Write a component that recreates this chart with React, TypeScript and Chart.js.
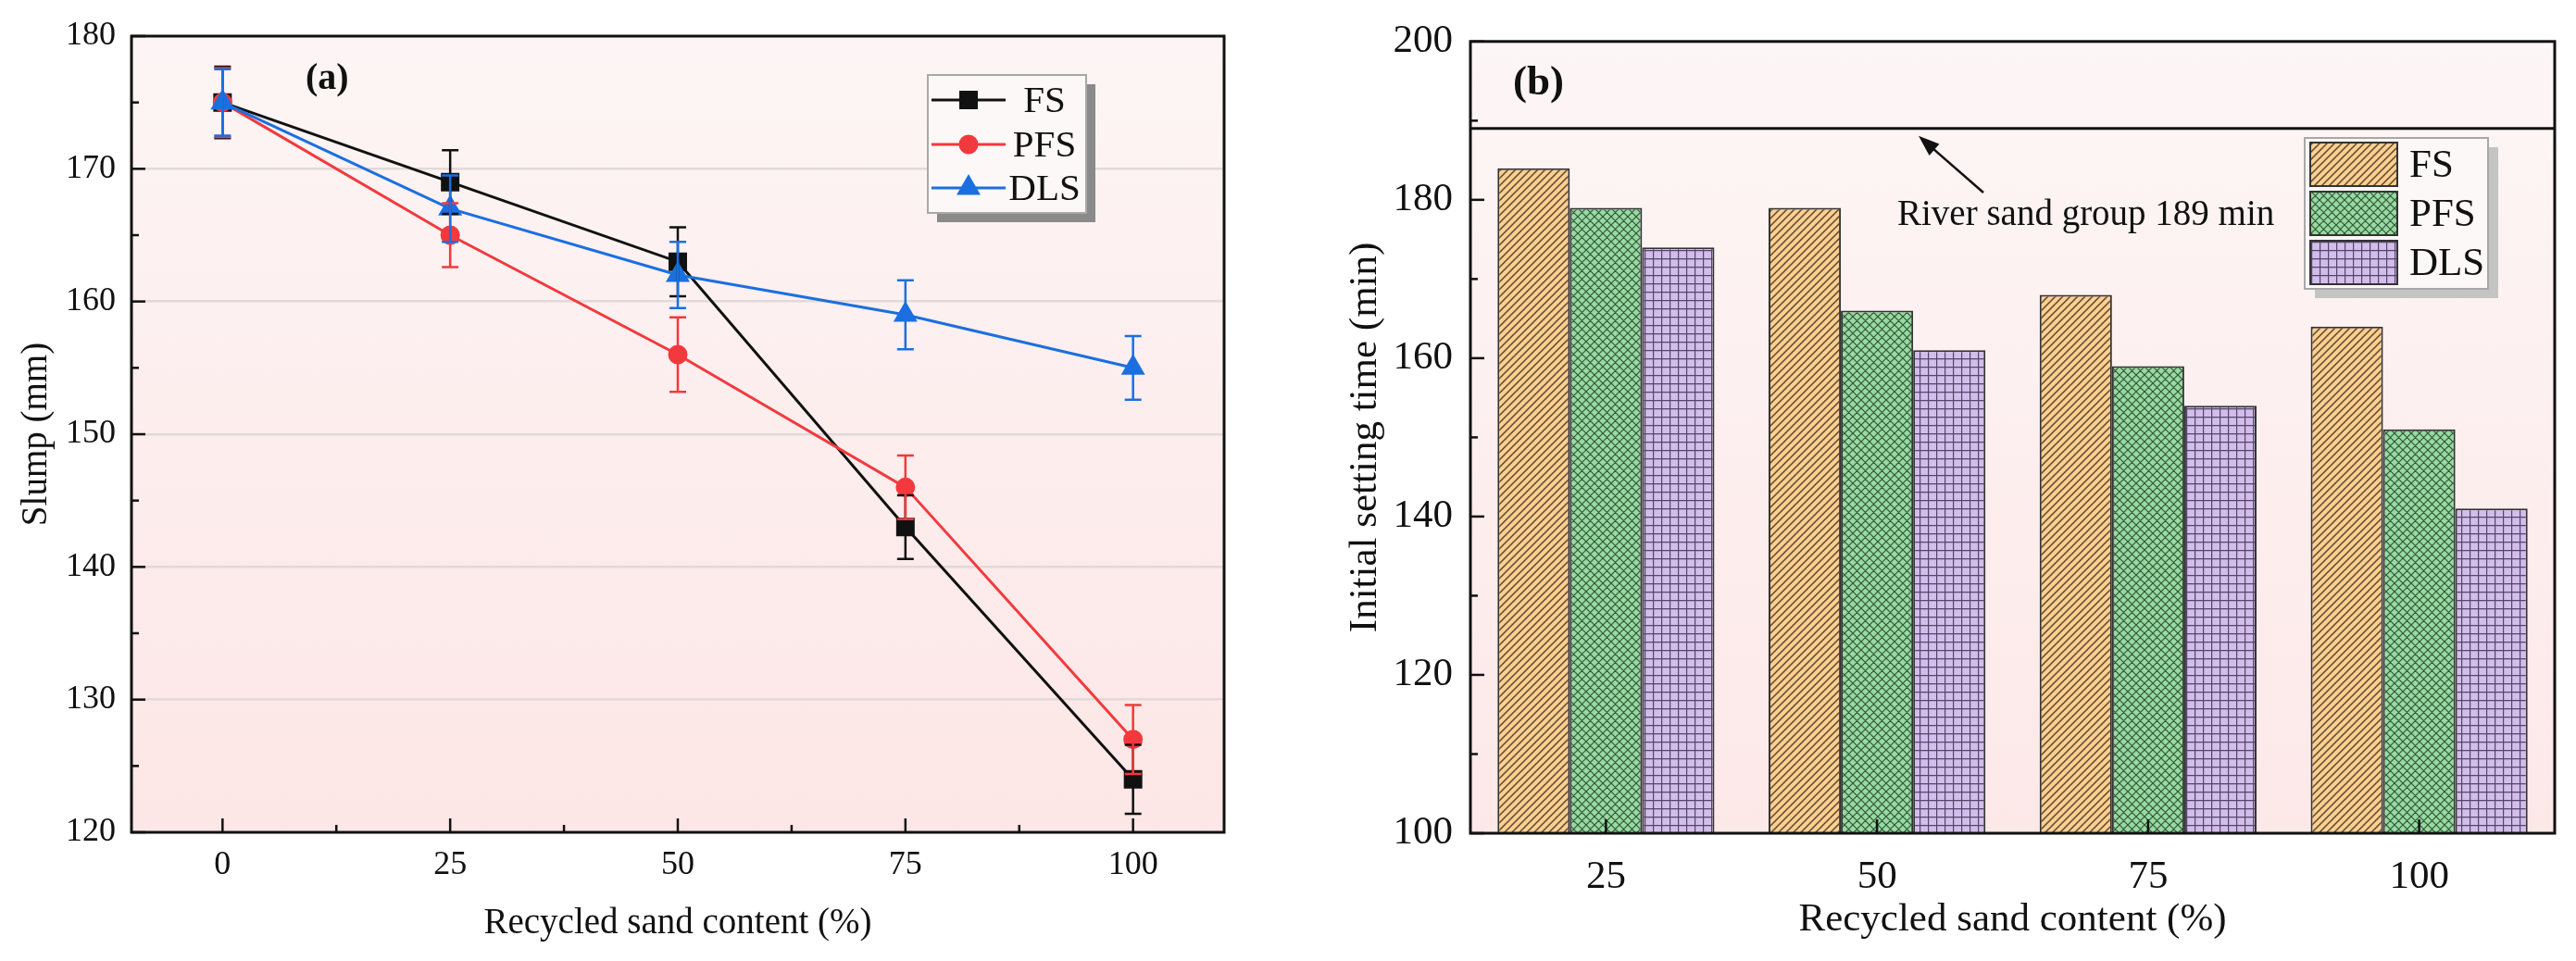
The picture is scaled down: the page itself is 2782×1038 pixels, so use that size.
import React, { useEffect, useRef } from 'react';
import { Chart, registerables } from 'chart.js';
import { drawPoint } from 'chart.js/helpers';

Chart.register(...registerables);

// (a) slump
const contents = [0, 25, 50, 75, 100];
const slumpFS = [175, 169, 163, 143, 124];
const slumpPFS = [175, 165, 156, 146, 127];
const slumpDLS = [175, 167, 162, 159, 155];
const errFS = [2.7, 2.4, 2.6, 2.4, 2.6];
const errPFS = [2.6, 2.4, 2.8, 2.4, 2.6];
const errDLS = [2.5, 2.5, 2.5, 2.6, 2.4];
const slumpTicks = [120, 130, 140, 150, 160, 170, 180];
const slumpMinor = [125, 135, 145, 155, 165, 175];
const contentMinor = [12.5, 37.5, 62.5, 87.5];

// (b) initial setting time
const barCategories = ['25', '50', '75', '100'];
const timeFS = [184, 179, 168, 164];
const timePFS = [179, 166, 159, 151];
const timeDLS = [174, 161, 154, 141];
const timeTicks = [100, 120, 140, 160, 180, 200];
const timeMinor = [110, 130, 150, 170, 190];
const riverSand = 189;

const SERIF = "'Liberation Serif', 'Times New Roman', Times, serif";
const INK = '#111111';
const RED = '#f2393d';
const BLUE = '#1b6fe0';

function makePattern(kind: string) {
  const s = kind === 'fs' ? 8 : 9;
  const c = document.createElement('canvas');
  c.width = s;
  c.height = s;
  const g = c.getContext('2d')!;
  g.fillStyle = kind === 'fs' ? '#fecf8f' : kind === 'pfs' ? '#96dba0' : '#d2bdeb';
  g.fillRect(0, 0, s, s);
  g.lineWidth = kind === 'fs' ? 1.5 : 1.2;
  g.strokeStyle = kind === 'fs' ? '#5a4632' : kind === 'pfs' ? '#34533a' : '#55456a';
  g.beginPath();
  if (kind === 'dls') {
    g.moveTo(0.6, 0); g.lineTo(0.6, s);
    g.moveTo(0, 0.6); g.lineTo(s, 0.6);
  } else {
    g.moveTo(-1, s + 1); g.lineTo(s + 1, -1);
    g.moveTo(-1, 1); g.lineTo(1, -1);
    g.moveTo(s - 1, s + 1); g.lineTo(s + 1, s - 1);
    if (kind === 'pfs') {
      g.moveTo(-1, -1); g.lineTo(s + 1, s + 1);
      g.moveTo(s - 1, -1); g.lineTo(s + 1, 1);
      g.moveTo(-1, s - 1); g.lineTo(1, s + 1);
    }
  }
  g.stroke();
  return g.createPattern(c, 'repeat')!;
}

const bgPlugin = {
  id: 'bg',
  beforeDraw(chart: any, _a: any, opts: any) {
    const { ctx, chartArea: a } = chart;
    const grad = ctx.createLinearGradient(0, a.top, 0, a.bottom);
    grad.addColorStop(0, opts.top);
    grad.addColorStop(1, opts.bottom);
    ctx.save();
    ctx.fillStyle = grad;
    ctx.fillRect(a.left, a.top, a.right - a.left, a.bottom - a.top);
    ctx.restore();
  },
};

// box frame with inward major / minor ticks
const framePlugin = {
  id: 'frame',
  afterDraw(chart: any, _a: any, opts: any) {
    const { ctx, chartArea: a, scales } = chart;
    ctx.save();
    ctx.strokeStyle = INK;
    ctx.lineWidth = 2.5;
    const seg = (x1: number, y1: number, x2: number, y2: number) => {
      ctx.beginPath();
      ctx.moveTo(x1, y1);
      ctx.lineTo(x2, y2);
      ctx.stroke();
    };
    opts.xMajor.forEach((v: number) => { const p = scales.x.getPixelForValue(v); seg(p, a.bottom, p, a.bottom - 15); });
    opts.xMinor.forEach((v: number) => { const p = scales.x.getPixelForValue(v); seg(p, a.bottom, p, a.bottom - 8); });
    opts.yMajor.forEach((v: number) => { const p = scales.y.getPixelForValue(v); seg(a.left, p, a.left + 15, p); });
    opts.yMinor.forEach((v: number) => { const p = scales.y.getPixelForValue(v); seg(a.left, p, a.left + 8, p); });
    ctx.lineWidth = 3;
    ctx.strokeRect(a.left, a.top, a.right - a.left, a.bottom - a.top);
    ctx.restore();
  },
};

const errorBarPlugin = {
  id: 'errorBars',
  afterDatasetsDraw(chart: any, _a: any, opts: any) {
    const { ctx, scales: { x, y } } = chart;
    ctx.save();
    ctx.lineWidth = 2.5;
    chart.data.datasets.forEach((ds: any, di: number) => {
      const errs = opts.errors[di];
      ctx.strokeStyle = ds.borderColor;
      ds.data.forEach((pt: any, i: number) => {
        const px = x.getPixelForValue(pt.x);
        const hi = y.getPixelForValue(pt.y + errs[i]);
        const lo = y.getPixelForValue(pt.y - errs[i]);
        ctx.beginPath();
        ctx.moveTo(px, hi); ctx.lineTo(px, lo);
        ctx.moveTo(px - 9, hi); ctx.lineTo(px + 9, hi);
        ctx.moveTo(px - 9, lo); ctx.lineTo(px + 9, lo);
        ctx.stroke();
      });
    });
    ctx.restore();
  },
};

const lineLegendPlugin = {
  id: 'lineLegend',
  afterDraw(chart: any) {
    const { ctx } = chart;
    ctx.save();
    ctx.fillStyle = '#8a8a8a';
    ctx.fillRect(1012, 91, 171, 149);
    ctx.fillStyle = '#fdf8f8';
    ctx.fillRect(1002, 81, 171, 149);
    ctx.strokeStyle = '#a8a8a8';
    ctx.lineWidth = 2;
    ctx.strokeRect(1002, 81, 171, 149);
    const rows = [108, 156, 203];
    chart.data.datasets.forEach((ds: any, i: number) => {
      const y = rows[i];
      ctx.strokeStyle = ds.borderColor;
      ctx.fillStyle = ds.borderColor;
      ctx.lineWidth = 3;
      ctx.beginPath();
      ctx.moveTo(1006, y);
      ctx.lineTo(1086, y);
      ctx.stroke();
      drawPoint(ctx, { pointStyle: ds.pointStyle, radius: ds.pointRadius, rotation: 0, borderWidth: 1 }, 1046, y);
      ctx.fillStyle = INK;
      ctx.font = `41px ${SERIF}`;
      ctx.textAlign = 'center';
      ctx.textBaseline = 'middle';
      ctx.fillText(ds.label, 1128, y + 2);
    });
    ctx.font = `bold 40px ${SERIF}`;
    ctx.textAlign = 'left';
    ctx.fillText('(a)', 330, 86);
    ctx.restore();
  },
};

const barExtrasPlugin = {
  id: 'barExtras',
  afterDraw(chart: any) {
    const { ctx, chartArea: a, scales } = chart;
    ctx.save();
    const ry = scales.y.getPixelForValue(riverSand);
    ctx.strokeStyle = INK;
    ctx.lineWidth = 3;
    ctx.beginPath();
    ctx.moveTo(a.left, ry);
    ctx.lineTo(a.right, ry);
    ctx.stroke();
    // arrow to the river sand line
    const tx = 692, ty = ry + 8, sx = 762, sy = 208;
    const ang = Math.atan2(ty - sy, tx - sx);
    ctx.lineWidth = 2.5;
    ctx.beginPath();
    ctx.moveTo(sx, sy);
    ctx.lineTo(tx - 14 * Math.cos(ang), ty - 14 * Math.sin(ang));
    ctx.stroke();
    ctx.fillStyle = INK;
    ctx.beginPath();
    ctx.moveTo(tx, ty);
    ctx.lineTo(tx - 24 * Math.cos(ang - 0.35), ty - 24 * Math.sin(ang - 0.35));
    ctx.lineTo(tx - 24 * Math.cos(ang + 0.35), ty - 24 * Math.sin(ang + 0.35));
    ctx.closePath();
    ctx.fill();
    ctx.font = `39px ${SERIF}`;
    ctx.textAlign = 'left';
    ctx.textBaseline = 'alphabetic';
    ctx.fillText(`River sand group ${riverSand} min`, 669, 243);
    ctx.font = `bold 45px ${SERIF}`;
    ctx.textBaseline = 'middle';
    ctx.fillText('(b)', 254, 90);

    // legend
    ctx.fillStyle = '#c4c4c4';
    ctx.fillRect(1120, 159, 198, 163);
    ctx.fillStyle = '#fdf8f8';
    ctx.fillRect(1109, 149, 198, 163);
    ctx.strokeStyle = '#a8a8a8';
    ctx.lineWidth = 2;
    ctx.strokeRect(1109, 149, 198, 163);
    const rows = [154, 207, 260];
    chart.data.datasets.forEach((ds: any, i: number) => {
      ctx.fillStyle = ds.backgroundColor;
      ctx.fillRect(1115, rows[i], 94, 47);
      ctx.strokeStyle = '#333333';
      ctx.lineWidth = 2;
      ctx.strokeRect(1115, rows[i], 94, 47);
      ctx.fillStyle = INK;
      ctx.font = `43px ${SERIF}`;
      ctx.textBaseline = 'middle';
      ctx.fillText(ds.label, 1222, rows[i] + 26);
    });
    ctx.restore();
  },
};

const tickFont = (size: number) => ({ family: SERIF, size });

function SlumpChart() {
  const ref = useRef<HTMLCanvasElement>(null);
  useEffect(() => {
    if (!ref.current) return;
    const chart = new Chart(ref.current, {
      type: 'line',
      data: {
        datasets: [
          { label: 'FS', data: contents.map((c, i) => ({ x: c, y: slumpFS[i] })), borderColor: INK, backgroundColor: INK, pointBackgroundColor: INK, pointStyle: 'rect', pointRadius: 12, borderWidth: 3, order: 2 },
          { label: 'PFS', data: contents.map((c, i) => ({ x: c, y: slumpPFS[i] })), borderColor: RED, backgroundColor: RED, pointBackgroundColor: RED, pointStyle: 'circle', pointRadius: 9, borderWidth: 3, order: 1 },
          { label: 'DLS', data: contents.map((c, i) => ({ x: c, y: slumpDLS[i] })), borderColor: BLUE, backgroundColor: BLUE, pointBackgroundColor: BLUE, pointStyle: 'triangle', pointRadius: 12, borderWidth: 3, order: 0 },
        ],
      },
      options: {
        responsive: false,
        animation: false,
        devicePixelRatio: 1,
        layout: { padding: { left: 0, right: 58, top: 39, bottom: 0 } },
        plugins: {
          legend: { display: false },
          tooltip: { enabled: false },
          bg: { top: '#fdf5f5', bottom: '#fde6e6' },
          frame: { xMajor: contents, xMinor: contentMinor, yMajor: slumpTicks, yMinor: slumpMinor },
          errorBars: { errors: [errFS, errPFS, errDLS] },
        } as any,
        scales: {
          x: {
            type: 'linear',
            min: -10,
            max: 110,
            afterBuildTicks: (s: any) => { s.ticks = contents.map((v) => ({ value: v })); },
            afterFit: (s: any) => { s.height = 139; },
            grid: { display: false, drawTicks: false },
            border: { display: false },
            ticks: { font: tickFont(36), color: INK, padding: 14 },
            title: { display: true, text: 'Recycled sand content (%)', font: tickFont(39), color: INK, padding: { top: 0, bottom: 17 } },
          },
          y: {
            min: 120,
            max: 180,
            afterBuildTicks: (s: any) => { s.ticks = slumpTicks.map((v) => ({ value: v })); },
            afterFit: (s: any) => { s.width = 142; },
            grid: {
              drawTicks: false,
              lineWidth: 2.5,
              color: (c: any) => (c.tick && (c.tick.value === 120 || c.tick.value === 180) ? 'rgba(0,0,0,0)' : '#e2d9d9'),
            },
            border: { display: false },
            ticks: { font: tickFont(36), color: INK, padding: 17 },
            title: { display: true, text: 'Slump (mm)', font: tickFont(39), color: INK, padding: { top: 16, bottom: 0 } },
          },
        },
      },
      plugins: [bgPlugin, errorBarPlugin, framePlugin, lineLegendPlugin],
    });
    return () => chart.destroy();
  }, []);
  return <canvas ref={ref} width={1380} height={1038} style={{ width: 1380, height: 1038, display: 'block' }} />;
}

function SettingChart() {
  const ref = useRef<HTMLCanvasElement>(null);
  useEffect(() => {
    if (!ref.current) return;
    const chart = new Chart(ref.current, {
      type: 'bar',
      data: {
        labels: barCategories,
        datasets: [
          { label: 'FS', data: timeFS, backgroundColor: makePattern('fs'), borderColor: '#333333', borderWidth: 2 },
          { label: 'PFS', data: timePFS, backgroundColor: makePattern('pfs'), borderColor: '#333333', borderWidth: 2 },
          { label: 'DLS', data: timeDLS, backgroundColor: makePattern('dls'), borderColor: '#333333', borderWidth: 2 },
        ],
      },
      options: {
        responsive: false,
        animation: false,
        devicePixelRatio: 1,
        layout: { padding: { left: 0, right: 23, top: 39, bottom: 0 } },
        datasets: { bar: { categoryPercentage: 0.8, barPercentage: 1 } },
        plugins: {
          legend: { display: false },
          tooltip: { enabled: false },
          bg: { top: '#fdf6f6', bottom: '#fde8e8' },
          frame: { xMajor: [0, 1, 2, 3], xMinor: [], yMajor: timeTicks, yMinor: timeMinor },
        } as any,
        scales: {
          x: {
            afterFit: (s: any) => { s.height = 138; },
            grid: { display: false, drawTicks: false },
            border: { display: false },
            ticks: { font: tickFont(43), color: INK, padding: 22 },
            title: { display: true, text: 'Recycled sand content (%)', font: tickFont(43), color: INK, padding: { top: 0, bottom: 18 } },
          },
          y: {
            min: 100,
            max: 200,
            afterBuildTicks: (s: any) => { s.ticks = timeTicks.map((v) => ({ value: v })); },
            afterFit: (s: any) => { s.width = 208; },
            grid: { display: false, drawTicks: false },
            border: { display: false },
            ticks: { font: tickFont(43), color: INK, padding: 19 },
            title: { display: true, text: 'Initial setting time (min)', font: tickFont(43), color: INK, padding: { top: 69, bottom: 0 } },
          },
        },
      },
      plugins: [bgPlugin, framePlugin, barExtrasPlugin],
    });
    return () => chart.destroy();
  }, []);
  return <canvas ref={ref} width={1402} height={1038} style={{ width: 1402, height: 1038, display: 'block' }} />;
}

export default function App() {
  return (
    <div style={{ position: 'absolute', left: 0, top: 0, width: 2782, height: 1038, background: '#fff' }}>
      <div style={{ position: 'absolute', left: 0, top: 0 }}>
        <SlumpChart />
      </div>
      <div style={{ position: 'absolute', left: 1380, top: 0 }}>
        <SettingChart />
      </div>
    </div>
  );
}
